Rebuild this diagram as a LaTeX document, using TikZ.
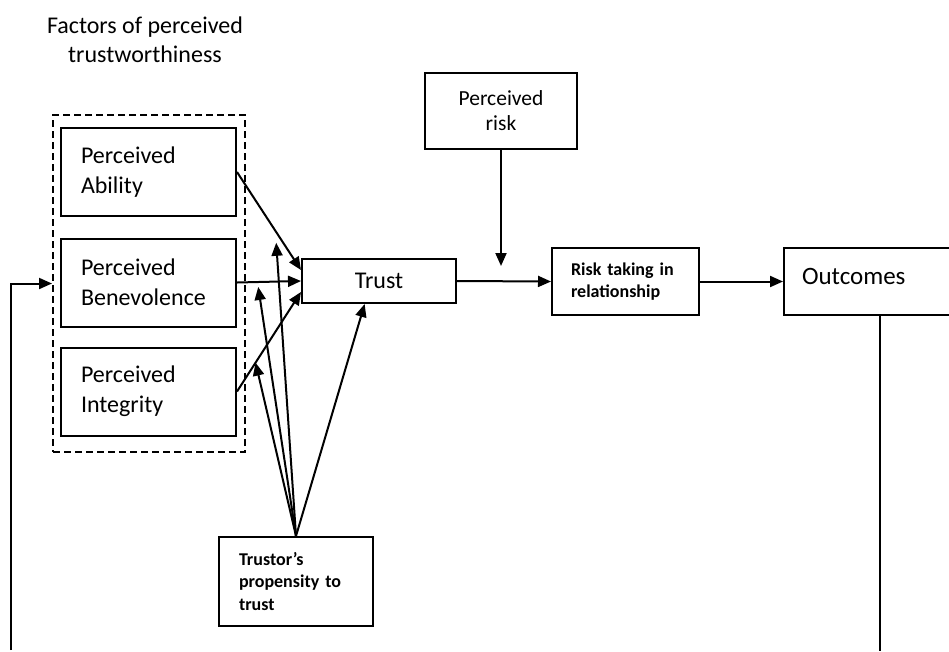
\documentclass[tikz,border=0pt]{standalone}
\usepackage{fontspec}
\setmainfont{Carlito}
\usetikzlibrary{arrows.meta, positioning, calc}

\begin{document}
\begin{tikzpicture}[x=1pt, y=-1pt,
    box/.style={draw, line width=2pt, inner sep=0pt},
    dashbox/.style={draw, line width=2pt, dash pattern=on 7pt off 4pt},
    factorbox/.style={box, minimum width=175pt, minimum height=88pt,
        text width=135pt, align=left, font=\fontsize{24}{30}\selectfont},
    smallbox/.style={box, align=left, font=\fontsize{18}{22.5}\selectfont\bfseries},
    arr/.style={line width=2pt, -{Triangle[length=13pt, width=11pt]}},
    link/.style={line width=2pt}]
    \useasboundingbox[fill=white] (0,0) rectangle (949,651);

    % Factors of perceived trustworthiness
    \node[align=center, font=\fontsize{24}{29}\selectfont] (title) at (145,40) {Factors of perceived\\trustworthiness};
    \node[dashbox, minimum width=192pt, minimum height=337pt] (factors) at (149,283.5) {};
    \node[factorbox] (ability) at (148.5,172) {Perceived\\Ability};
    \node[factorbox] (benevolence) at (148.5,282.5) {Perceived\\Benevolence};
    \node[factorbox] (integrity) at (148.5,391.5) {Perceived\\Integrity};

    % Main chain
    \node[box, minimum width=154pt, minimum height=44pt, font=\fontsize{24}{29}\selectfont] (trust) at (379,281) {Trust};
    \node[box, minimum width=152pt, minimum height=76pt, align=center, font=\fontsize{21.5}{25}\selectfont] (prisk) at (501,111) {Perceived\\risk};
    \node[smallbox, minimum width=147pt, minimum height=67pt, text width=109pt] (risk) at (625.5,281.5) {Risk taking in\\relationship};
    \node[box, minimum width=167pt, minimum height=67pt, text width=131pt, align=left, font=\fontsize{25}{30}\selectfont] (outcomes) at (867.5,281.5) {Outcomes\strut\rule[-16pt]{0pt}{1pt}};
    \node[smallbox, minimum width=154pt, minimum height=89pt, text width=114pt] (propensity) at (296,581.5) {Trustor’s\\propensity to\\trust};

    % Factors to trust
    \draw[arr] (ability.east) -- (trust.172) coordinate[pos=0.6] (mAbility);
    \draw[arr] (benevolence.east) -- (trust.west) coordinate[pos=0.32] (mBenevolence);
    \draw[arr] (integrity.east) -- (trust.188) coordinate[pos=0.29] (mIntegrity);

    % Propensity
    \draw[arr, shorten >=12pt] (propensity.north) -- (mAbility);
    \draw[arr, shorten >=5pt] (propensity.north) -- (mBenevolence);
    \draw[arr] (propensity.north) -- (mIntegrity);
    \draw[arr] (propensity.north) -- (trust.-122);

    % Risk and outcomes
    \coordinate (rmod) at ($(prisk.south)+(0,116)$);
    \draw[arr] (trust.east) -- (risk.west);
    \draw[arr] (prisk.south) -- (rmod);
    \draw[arr] (risk.east) -- (outcomes.west);

    % Feedback
    \coordinate (outEnd) at (880,651);
    \coordinate (fbStart) at (11,650);
    \draw[link] (outcomes.south -| outEnd) -- (outEnd);
    \draw[arr] (fbStart) |- (factors.west);
\end{tikzpicture}
\end{document}
